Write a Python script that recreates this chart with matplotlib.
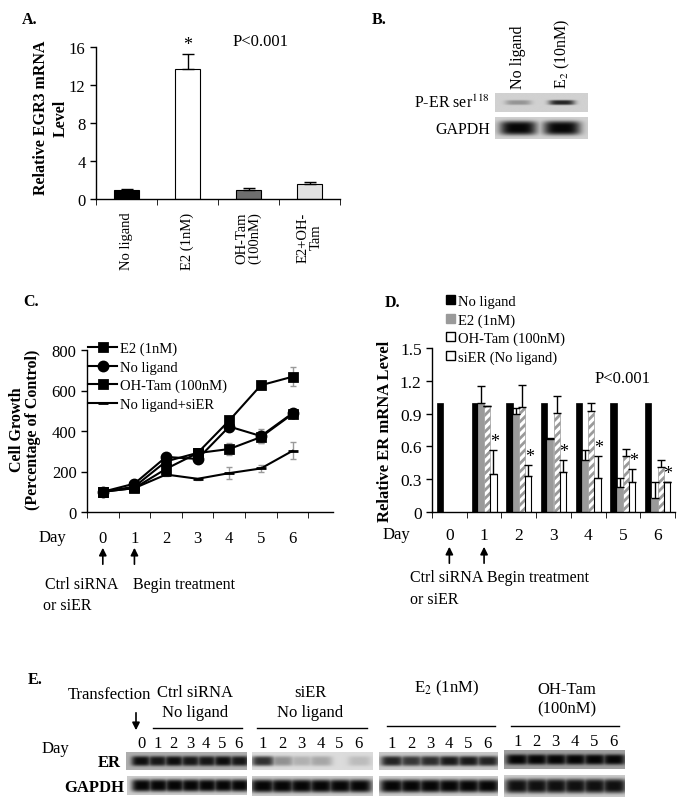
import matplotlib
matplotlib.use("Agg")
import matplotlib.pyplot as plt
from matplotlib.patches import Patch, FancyArrowPatch
from matplotlib.lines import Line2D
import numpy as np

plt.rcParams['font.family'] = ['Liberation Serif', 'DejaVu Serif']
plt.rcParams['mathtext.fontset'] = 'stix'
plt.rcParams['hatch.linewidth'] = 2.0
plt.rcParams['axes.linewidth'] = 1.0

# ---- A. EGR3 mRNA ----
egr3_labels = ["No ligand", "E2 (1nM)", "OH-Tam\n(100nM)", "E2+OH-\nTam"]
egr3_values = [1.0, 13.7, 1.0, 1.6]
egr3_errors = [0.1, 1.6, 0.15, 0.2]
egr3_colors = ["black", "white", "#6e6e6e", "#e2e2e2"]

# ---- B. P-ER ser118 blot ----
b_lanes = ["No ligand", "E$_2$ (10nM)"]
per_bands = [0.3, 0.85]
gapdh_b_bands = [1.0, 1.0]

# ---- C. cell growth ----
days = [0, 1, 2, 3, 4, 5, 6]
growth_e2 = [100, 125, 250, 292, 452, 626, 668]
growth_e2_err = [4, 6, 8, 8, 10, 20, 48]
growth_noligand = [100, 140, 272, 262, 422, 375, 488]
growth_noligand_err = [4, 6, 8, 8, 18, 35, 12]
growth_ohtam = [100, 118, 213, 291, 311, 370, 484]
growth_ohtam_err = [4, 6, 8, 8, 28, 30, 10]
growth_sier = [100, 118, 185, 164, 192, 215, 302]
growth_sier_err = [4, 5, 6, 5, 30, 15, 42]

# ---- D. ER mRNA ----
nan = np.nan
er_noligand = [1.0, 1.0, 1.0, 1.0, 1.0, 1.0, 1.0]
er_e2 = [nan, 1.0, 0.90, 0.67, 0.48, 0.23, 0.13]
er_e2_err = [nan, 0.15, 0.05, 0.01, 0.09, 0.08, 0.14]
er_ohtam = [nan, 0.97, 0.96, 0.91, 0.92, 0.51, 0.41]
er_ohtam_err = [nan, 0.0, 0.20, 0.15, 0.08, 0.07, 0.07]
er_sier = [nan, 0.35, 0.33, 0.37, 0.31, 0.27, 0.27]
er_sier_err = [nan, 0.22, 0.10, 0.11, 0.20, 0.12, 0.0]

# ---- E. ER western blot ----
e_groups = ["Ctrl siRNA\nNo ligand", "siER\nNo ligand", "E$_2$ (1nM)", "OH-Tam\n(100nM)"]
e_days = [[0, 1, 2, 3, 4, 5, 6], [1, 2, 3, 4, 5, 6], [1, 2, 3, 4, 5, 6], [1, 2, 3, 4, 5, 6]]
e_er_bands = [[0.95, 0.9, 0.95, 0.9, 0.9, 0.95, 0.9],
              [0.8, 0.35, 0.2, 0.25, 0.0, 0.15],
              [0.85, 0.75, 0.8, 0.9, 0.9, 0.85],
              [1.0, 1.0, 1.0, 1.0, 1.0, 1.0]]
e_gapdh_bands = [[1.0] * 7, [1.0] * 6, [1.0] * 6, [0.95] * 6]

W, H = 685, 812
fig = plt.figure(figsize=(W / 100, H / 100), dpi=100)


def box(x0, y0, x1, y1):
    return [x0 / W, 1 - y1 / H, (x1 - x0) / W, (y1 - y0) / H]


def at(x, y):
    return x / W, 1 - y / H


def label(x, y, s, size=11.5, **kw):
    kw.setdefault('ha', 'left')
    kw.setdefault('va', 'center')
    fig.text(*at(x, y), s, fontsize=size, **kw)


def blot(ax, bands, lanes, bg, bw, bh=0.3):
    xs = np.linspace(0, 1, 300)
    ys = np.linspace(0, 1, 60)
    X, Y = np.meshgrid(xs, ys)
    dark = np.zeros_like(X)
    for p, b in zip(lanes, bands):
        dark = np.maximum(dark, b * np.exp(-((X - p) / bw) ** 4) * np.exp(-((Y - 0.5) / bh) ** 4))
    ax.imshow(bg * (1 - 0.97 * dark), cmap='gray', vmin=0, vmax=1, extent=[0, 1, 0, 1],
              aspect='auto', interpolation='bilinear')
    ax.set_xlim(0, 1)
    ax.set_ylim(0, 1)
    ax.set_yticks([])
    for s in ax.spines.values():
        s.set_visible(False)


def clean(ax):
    ax.spines['top'].set_visible(False)
    ax.spines['right'].set_visible(False)
    ax.tick_params(axis='y', direction='out', length=4, width=1)


# ---------------- A ----------------
ax_a = fig.add_axes(box(96, 48, 340, 200))
clean(ax_a)
xa = np.arange(len(egr3_values))
ax_a.bar(xa, egr3_values, 0.41, color=egr3_colors, edgecolor='black', linewidth=0.8,
         yerr=[np.zeros(len(egr3_errors)), egr3_errors], capsize=4,
         error_kw=dict(elinewidth=1, ecolor='black', capthick=1))
ax_a.text(1, egr3_values[1] + egr3_errors[1] + 0.1, '*', ha='center', va='bottom', fontsize=13)
ax_a.set_xlim(-0.5, 3.5)
ax_a.set_ylim(0, 16)
ax_a.set_yticks([0, 4, 8, 12, 16])
ax_a.tick_params(axis='y', labelsize=12)
ax_a.set_xticks(xa)
ax_a.set_xticklabels(egr3_labels, rotation=90, fontsize=10.5, linespacing=1.0)
ax_a.set_xticks(np.arange(-0.5, 4, 1), minor=True)
ax_a.tick_params(axis='x', which='major', length=0, pad=9)
ax_a.tick_params(axis='x', which='minor', length=4, direction='out')
label(51, 118, "Relative EGR3 mRNA\nLevel", size=11.5, weight='bold', rotation=90,
      ha='center', linespacing=1.3, multialignment='center')
label(233, 42, "P<0.001", size=12)
label(22, 20, "A.", size=11.5, weight='bold')

# ---------------- B ----------------
b_pos = [0.25, 0.72]
ax_b1 = fig.add_axes(box(495, 94, 588, 113))
blot(ax_b1, per_bands, b_pos, 0.82, 0.14, bh=0.13)
ax_b1.set_xticks([])
ax_b2 = fig.add_axes(box(495, 118, 588, 140))
blot(ax_b2, gapdh_b_bands, b_pos, 0.82, 0.2, bh=0.32)
ax_b2.set_xticks([])
for p, name in zip(b_pos, b_lanes):
    label(495 + p * 93, 89, name, rotation=90, ha='center', va='bottom')
label(490, 103, "P-ER ser$^{118}$", ha='right')
label(490, 130, "GAPDH", ha='right')
label(372, 20, "B.", weight='bold')

# ---------------- C ----------------
ax_c = fig.add_axes(box(87, 351, 333, 513))
clean(ax_c)
series_c = [
    (growth_e2, growth_e2_err, 's', 6, "E2 (1nM)"),
    (growth_noligand, growth_noligand_err, 'o', 6.5, "No ligand"),
    (growth_ohtam, growth_ohtam_err, 's', 6, "OH-Tam (100nM)"),
    (growth_sier, growth_sier_err, '_', 7, "No ligand+siER"),
]
for vals, err, mk, ms, name in series_c:
    ax_c.errorbar(days, vals, yerr=err, fmt='none', ecolor='#9a9a9a', elinewidth=1, capsize=2.5)
for vals, err, mk, ms, name in series_c:
    ax_c.plot(days, vals, color='black', lw=1.5, marker=mk, ms=ms, mew=2, label=name)
ax_c.set_xlim(-0.5, 7.28)
ax_c.set_ylim(0, 800)
ax_c.set_yticks([0, 200, 400, 600, 800])
ax_c.tick_params(axis='y', labelsize=12)
ax_c.set_xticks(days)
ax_c.set_xticklabels([str(d) for d in days], fontsize=12)
ax_c.set_xticks(np.arange(-0.5, 7, 1), minor=True)
ax_c.tick_params(axis='x', which='major', length=0, pad=13)
ax_c.tick_params(axis='x', which='minor', length=4, direction='out')
ax_c.legend(loc='upper left', bbox_to_anchor=at(88, 343), bbox_transform=fig.transFigure,
            frameon=False, fontsize=10.5, handlelength=2.0, handletextpad=0.2,
            labelspacing=0.35, borderpad=0, borderaxespad=0)
label(25, 430, "Cell Growth\n(Percentage of Control)", size=11.5, weight='bold', rotation=90,
      ha='center', linespacing=1.0, multialignment='center')
label(39, 538, "Day", size=12)
for d in days[:2]:
    ax_c.annotate("", xy=(d, at(0, 546)[1]), xytext=(d, at(0, 568)[1]),
                  xycoords=('data', 'figure fraction'), textcoords=('data', 'figure fraction'),
                  arrowprops=dict(arrowstyle='-|>', color='black', lw=1.2, mutation_scale=11),
                  annotation_clip=False)
label(45, 585, "Ctrl siRNA", size=11.5)
label(43, 606, "or siER", size=11.5)
label(133, 585, "Begin treatment", size=11.5)
label(23, 302, "C.", weight='bold')

# ---------------- D ----------------
ax_d = fig.add_axes(box(432, 349, 675, 513))
clean(ax_d)
xd = np.arange(len(days))
bw = 0.18
zero = np.zeros(len(days))
ekw = dict(elinewidth=1, ecolor='black', capthick=1)
ax_d.bar(xd - 0.27, er_noligand, bw, color='black', edgecolor='black', linewidth=0.5)
ax_d.bar(xd - 0.09, er_e2, bw, color='#9a9a9a', edgecolor='#9a9a9a', linewidth=0.5,
         yerr=[zero, er_e2_err], capsize=3, error_kw=ekw)
ax_d.bar(xd + 0.09, er_ohtam, bw, color='white', edgecolor='#9a9a9a', hatch='////', linewidth=0.5,
         yerr=[zero, er_ohtam_err], capsize=3, error_kw=ekw)
ax_d.bar(xd + 0.27, er_sier, bw, color='white', edgecolor='black', linewidth=0.8,
         yerr=[zero, er_sier_err], capsize=3, error_kw=ekw)
for i in xd[1:]:
    ax_d.text(xd[i] + 0.3, er_sier[i] + er_sier_err[i], '*', ha='center', va='bottom', fontsize=13)
ax_d.set_xlim(-0.5, 6.5)
ax_d.set_ylim(0, 1.5)
ax_d.set_yticks([0, 0.3, 0.6, 0.9, 1.2, 1.5])
ax_d.set_yticklabels(["0", "0.3", "0.6", "0.9", "1.2", "1.5"])
ax_d.tick_params(axis='y', labelsize=12.5)
ax_d.set_xticks(xd)
ax_d.set_xticklabels([str(d) for d in days], fontsize=12.5)
ax_d.set_xticks(np.arange(-0.5, 7, 1), minor=True)
ax_d.tick_params(axis='x', which='major', length=0, pad=11)
ax_d.tick_params(axis='x', which='minor', length=4, direction='out')
handles = [Patch(facecolor='black', edgecolor='black'),
           Patch(facecolor='#9a9a9a', edgecolor='#9a9a9a'),
           Patch(facecolor='white', edgecolor='black'),
           Patch(facecolor='white', edgecolor='black')]
ax_d.legend(handles, ["No ligand", "E2 (1nM)", "OH-Tam (100nM)", "siER (No ligand)"],
            loc='upper left', bbox_to_anchor=at(446, 296), bbox_transform=fig.transFigure,
            frameon=False, fontsize=10.5, handlelength=0.6, handleheight=0.6,
            handletextpad=0.25, labelspacing=0.35, borderpad=0, borderaxespad=0)
label(595, 379, "P<0.001", size=12)
label(385, 431, "Relative ER mRNA Level", size=12, weight='bold', rotation=90, ha='center')
label(383, 535, "Day", size=12)
for d in days[:2]:
    ax_d.annotate("", xy=(d, at(0, 545)[1]), xytext=(d, at(0, 567)[1]),
                  xycoords=('data', 'figure fraction'), textcoords=('data', 'figure fraction'),
                  arrowprops=dict(arrowstyle='-|>', color='black', lw=1.2, mutation_scale=11),
                  annotation_clip=False)
label(410, 578, "Ctrl siRNA", size=11.5)
label(410, 600, "or siER", size=11.5)
label(487, 578, "Begin treatment", size=11.5)
label(385, 303, "D.", weight='bold')

# ---------------- E ----------------
e_er_boxes = [(126, 753, 246, 771), (252, 753, 372, 771), (379, 753, 497, 771), (504, 751, 624, 770)]
e_gapdh_boxes = [(127, 777, 247, 796), (252, 777, 372, 797), (379, 777, 497, 797), (504, 776, 624, 798)]
e_lane_span = [(0.125, 0.94), (0.09, 0.89), (0.11, 0.915), (0.11, 0.91)]
e_er_bg = [0.68, 0.86, 0.78, 0.62]
e_head = [(195, 703), (310, 703), (447, 688), (567, 700)]
e_line = [(153, 242, 729), (257, 367, 729), (387, 495, 727), (511, 619, 727)]
for g in range(len(e_groups)):
    lanes = np.linspace(*e_lane_span[g], len(e_days[g]))
    spacing = lanes[1] - lanes[0]
    ax1 = fig.add_axes(box(*e_er_boxes[g]))
    blot(ax1, e_er_bands[g], lanes, e_er_bg[g], spacing * 0.6, bh=0.28)
    ax1.set_xticks(lanes)
    ax1.set_xticklabels([str(d) for d in e_days[g]], fontsize=12)
    ax1.xaxis.tick_top()
    ax1.tick_params(axis='x', length=0, pad=1)
    ax2 = fig.add_axes(box(*e_gapdh_boxes[g]))
    blot(ax2, e_gapdh_bands[g], lanes, 0.8, spacing * 0.65, bh=0.33)
    ax2.set_xticks([])
    label(*e_head[g], e_groups[g], size=12, ha='center', linespacing=1.3, multialignment='center')
    x0, x1, y = e_line[g]
    fig.add_artist(Line2D([x0 / W, x1 / W], [1 - y / H, 1 - y / H], color='black', lw=1,
                          transform=fig.transFigure))
label(68, 695, "Transfection", size=12)
fig.add_artist(FancyArrowPatch(at(136, 711), at(136, 734), arrowstyle='-|>',
                               mutation_scale=11, color='black', lw=1.2,
                               transform=fig.transFigure))
label(42, 749, "Day", size=12)
label(121, 763, "ER", size=12, weight='bold', ha='right')
label(124, 788, "GAPDH", size=12, weight='bold', ha='right')
label(28, 680, "E.", weight='bold')

fig.savefig("out.png", dpi=100, facecolor='white')
